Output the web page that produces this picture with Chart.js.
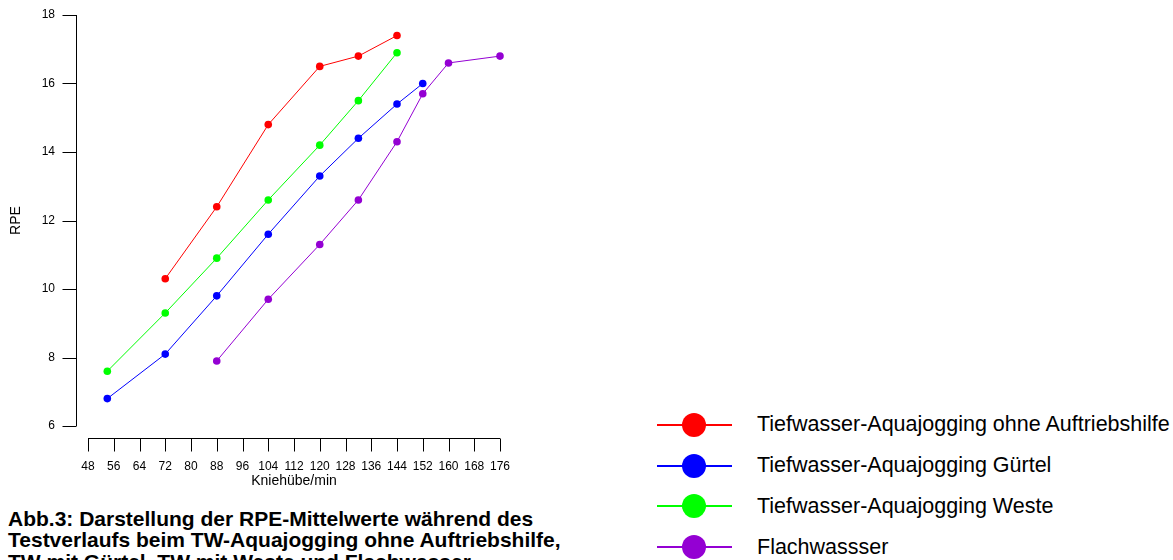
<!DOCTYPE html>
<html>
<head>
<meta charset="utf-8">
<script src="https://cdn.jsdelivr.net/npm/chart.js@4.4.1/dist/chart.umd.min.js"></script>
<style>
  html, body { margin: 0; padding: 0; background: #fff; overflow: hidden; }
  body { width: 1173px; height: 560px; position: relative; font-family: "Liberation Sans", Arial, sans-serif; }
  #wrap { position: absolute; left: 0; top: 0; width: 520px; height: 500px; }
  #caption { position: absolute; left: 8px; top: 507.5px; font-weight: bold; font-size: 21px; line-height: 21.6px; color: #000; white-space: nowrap; }
  #legende { position: absolute; left: 657px; top: 404.6px; }
  .zeile { display: flex; align-items: center; height: 40.7px; }
  .marke { position: relative; width: 75px; height: 24px; }
  .marke .linie { position: absolute; left: 0; right: 0; top: 11px; height: 2px; }
  .marke .punkt { position: absolute; left: 25px; top: 0; width: 24px; height: 24px; border-radius: 50%; }
  .text { margin-left: 25px; font-size: 21.5px; color: #000; white-space: nowrap; }
</style>
</head>
<body>
<div id="wrap"><canvas id="rpeChart"></canvas></div>
<div id="legende"></div>
<div id="caption">Abb.3: Darstellung der RPE-Mittelwerte während des<br>Testverlaufs beim TW-Aquajogging ohne Auftriebshilfe,<br>TW mit Gürtel, TW mit Weste und Flachwasser</div>
<script>
// Kniehübe/min und RPE-Mittelwerte
const xOhne = [72, 88, 104, 120, 132, 144];
const rpeOhne = [10.3, 12.4, 14.8, 16.5, 16.8, 17.4];

const xGuertel = [54, 72, 88, 104, 120, 132, 144, 152];
const rpeGuertel = [6.8, 8.1, 9.8, 11.6, 13.3, 14.4, 15.4, 16.0];

const xWeste = [54, 72, 88, 104, 120, 132, 144];
const rpeWeste = [7.6, 9.3, 10.9, 12.6, 14.2, 15.5, 16.9];

const xFlach = [88, 104, 120, 132, 144, 152, 160, 176];
const rpeFlach = [7.9, 9.7, 11.3, 12.6, 14.3, 15.7, 16.6, 16.8];

const serienNamen = [
    'Tiefwasser-Aquajogging ohne Auftriebshilfe',
    'Tiefwasser-Aquajogging Gürtel',
    'Tiefwasser-Aquajogging Weste',
    'Flachwassser'
];
const serienFarben = ['#ff0000', '#0000ff', '#00ff00', '#9400d3'];

const xMin = 48, xMax = 176, xSchritt = 8;
const yMin = 6, yMax = 18, ySchritt = 2;

function punkte(xs, ys) {
    return xs.map((x, i) => ({ x: x, y: ys[i] }));
}

const schrift = '"Liberation Sans", Arial, sans-serif';

// Achsen im R-Stil, abgesetzt vom Plotbereich
const achsenPlugin = {
    id: 'achsen',
    afterDraw(chart) {
        const ctx = chart.ctx;
        const xs = chart.scales.x;
        const ys = chart.scales.y;
        const area = chart.chartArea;
        ctx.save();
        ctx.strokeStyle = '#000';
        ctx.lineWidth = 1;

        // y-Achse
        const ax = Math.round(area.left - 12) + 0.5;
        ctx.beginPath();
        ctx.moveTo(ax, ys.getPixelForValue(yMax));
        ctx.lineTo(ax, ys.getPixelForValue(yMin));
        for (let v = yMin; v <= yMax; v += ySchritt) {
            const py = Math.round(ys.getPixelForValue(v)) + 0.5;
            ctx.moveTo(ax, py);
            ctx.lineTo(ax - 14, py);
        }
        ctx.stroke();

        // x-Achse
        const ay = Math.round(area.bottom + 12) + 0.5;
        ctx.beginPath();
        ctx.moveTo(xs.getPixelForValue(xMin), ay);
        ctx.lineTo(xs.getPixelForValue(xMax), ay);
        for (let v = xMin; v <= xMax; v += xSchritt) {
            const px = Math.round(xs.getPixelForValue(v)) + 0.5;
            ctx.moveTo(px, ay);
            ctx.lineTo(px, ay + 13);
        }
        ctx.stroke();
        ctx.restore();
    }
};

const daten = {
    datasets: [
        punkte(xOhne, rpeOhne),
        punkte(xGuertel, rpeGuertel),
        punkte(xWeste, rpeWeste),
        punkte(xFlach, rpeFlach)
    ].map((d, i) => ({
        label: serienNamen[i],
        data: d,
        borderColor: serienFarben[i],
        backgroundColor: serienFarben[i],
        borderWidth: 1,
        pointRadius: 3.8,
        pointBorderWidth: 0,
        showLine: true,
        tension: 0,
        clip: false
    }))
};

const ctx = document.getElementById('rpeChart').getContext('2d');
const rpeChart = new Chart(ctx, {
    type: 'scatter',
    data: daten,
    options: {
        responsive: true,
        maintainAspectRatio: false,
        animation: false,
        layout: { padding: { top: 15, right: 20, left: 0, bottom: 0 } },
        scales: {
            x: {
                type: 'linear',
                min: xMin,
                max: xMax,
                afterFit: (s) => { s.height = 74; s.paddingLeft = 0; s.paddingRight = 0; },
                grid: { display: false, drawTicks: false },
                border: { display: false },
                ticks: {
                    stepSize: xSchritt,
                    padding: 33,
                    color: '#000',
                    maxRotation: 0,
                    autoSkip: false,
                    font: { family: schrift, size: 12 }
                },
                title: {
                    display: true,
                    text: 'Kniehübe/min',
                    color: '#000',
                    font: { family: schrift, size: 14 },
                    padding: { top: 0, bottom: 10 }
                }
            },
            y: {
                min: yMin,
                max: yMax,
                afterFit: (s) => { s.width = 88; s.paddingTop = 0; s.paddingBottom = 0; },
                grid: { display: false, drawTicks: false },
                border: { display: false },
                ticks: {
                    stepSize: ySchritt,
                    padding: 33,
                    color: '#000',
                    font: { family: schrift, size: 12 }
                },
                title: {
                    display: true,
                    text: 'RPE',
                    color: '#000',
                    font: { family: schrift, size: 14 },
                    padding: { top: 8, bottom: 0 }
                }
            }
        },
        plugins: {
            legend: { display: false },
            tooltip: { enabled: false }
        }
    },
    plugins: [achsenPlugin]
});

// Legende aus den Datensätzen aufbauen
const legende = document.getElementById('legende');
rpeChart.data.datasets.forEach((ds) => {
    const zeile = document.createElement('div');
    zeile.className = 'zeile';
    zeile.innerHTML = '<span class="marke"><span class="linie" style="background:' + ds.borderColor + '"></span>' +
        '<span class="punkt" style="background:' + ds.backgroundColor + '"></span></span>' +
        '<span class="text"></span>';
    zeile.querySelector('.text').textContent = ds.label;
    legende.appendChild(zeile);
});
</script>
</body>
</html>
